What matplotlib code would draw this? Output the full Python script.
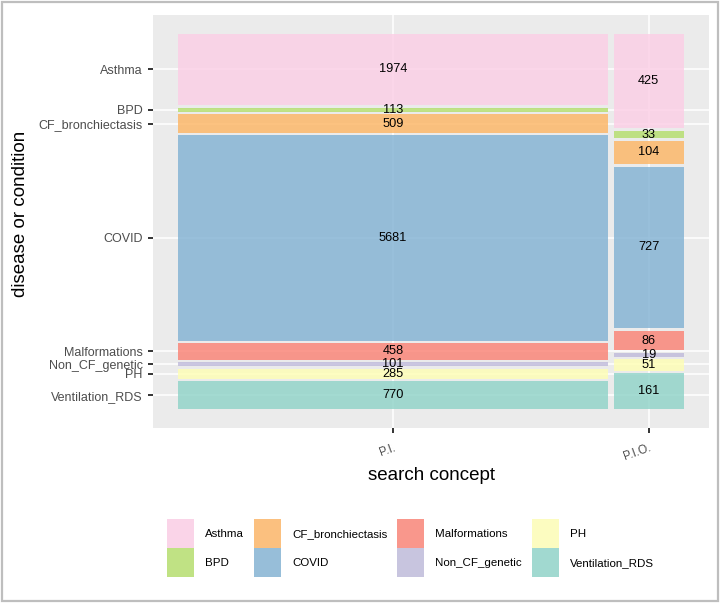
import matplotlib
matplotlib.use('Agg')
import matplotlib.pyplot as plt
from matplotlib.patches import Patch, Rectangle
from matplotlib.colors import to_rgb
import numpy as np

# ---- data ----
concepts = ['P.I.', 'P.I.O.']
conditions = ['Asthma', 'BPD', 'CF_bronchiectasis', 'COVID', 'Malformations',
              'Non_CF_genetic', 'PH', 'Ventilation_RDS']
counts_PI = [1974, 113, 509, 5681, 458, 101, 285, 770]
counts_PIO = [425, 33, 104, 727, 86, 19, 51, 161]
colors = ['#FCCDE5', '#B3DE69', '#FDB462', '#80B1D3', '#FB8072',
          '#BEBADA', '#FFFFB3', '#8DD3C7']

plt.rcParams['font.family'] = ['Liberation Sans', 'DejaVu Sans']

W, H = 723, 604
fig = plt.figure(figsize=(W / 100, H / 100), dpi=100)
ax = fig.add_axes([153 / W, 1 - 428 / H, (709 - 153) / W, (428 - 15) / H])
ax.set_facecolor('#EBEBEB')
for s in ax.spines.values():
    s.set_visible(False)

columns = [counts_PI, counts_PIO]
col_totals = [sum(c) for c in columns]
N = sum(col_totals)
gx = 0.012
gy = 0.0072
alpha = 0.8

x0 = 0.0
xcenters = []
pi_centers = []
for ci, col in enumerate(columns):
    w = col_totals[ci] / N
    xc = x0 + w / 2
    xcenters.append(xc)
    y0 = 0.0
    for k, v in enumerate(col):
        h = v / col_totals[ci]
        ax.bar(xc, h, width=w, bottom=y0, color=colors[k], alpha=alpha,
               edgecolor='none', zorder=2)
        ax.text(xc, y0 + h / 2, str(v), ha='center', va='center',
                fontsize=9.2, color='black', zorder=3)
        if ci == 0:
            pi_centers.append(y0 + h / 2)
        y0 += h + gy
    x0 += w + gx

span_x = 1 + gx * (len(columns) - 1)
span_y = 1 + gy * (len(conditions) - 1)
ax.set_xlim(-0.05 * span_x, 1.05 * span_x)
ax.set_ylim(1.05 * span_y, -0.05 * span_y)

ax.set_yticks(pi_centers)
ax.set_yticklabels(conditions)
ax.set_xticks(xcenters)
ax.set_xticklabels(concepts, rotation=20, ha='right', rotation_mode='anchor')
ax.tick_params(axis='y', length=3.8, width=1.4, color='#333333', pad=3.5,
               labelsize=9, labelcolor='#4D4D4D')
ax.tick_params(axis='x', length=3.8, width=1.4, color='#333333', pad=6,
               labelsize=8.5, labelcolor='#4D4D4D')
ax.grid(True, color='white', linewidth=1.1)
ax.set_axisbelow(True)

fig.text(431 / W, 1 - 475 / H, 'search concept', ha='center', va='center',
         fontsize=13.5)
fig.text(21 / W, 1 - 214 / H, 'disease or condition', ha='center', va='center',
         rotation=90, fontsize=13.5)

# legend
bg = np.array(to_rgb('#F2F2F2'))
handles = [Patch(facecolor=tuple(alpha * np.array(to_rgb(c)) + (1 - alpha) * bg),
                 edgecolor='none') for c in colors]
fig.legend(handles, conditions, ncol=4, loc='upper left',
           bbox_to_anchor=(167 / W, 1 - 519 / H), frameon=False,
           borderpad=0, borderaxespad=0, handlelength=2.36, handleheight=3.52,
           labelspacing=0, handletextpad=0.96, columnspacing=0.87, fontsize=8.25)

# outer border
fig.patches.append(Rectangle((1.5 / W, 3 / H), (718 - 1.5) / W, (602 - 3) / H,
                             transform=fig.transFigure, fill=False,
                             edgecolor='#BEBEBE', linewidth=1.6))

fig.savefig('out.png', dpi=100)
